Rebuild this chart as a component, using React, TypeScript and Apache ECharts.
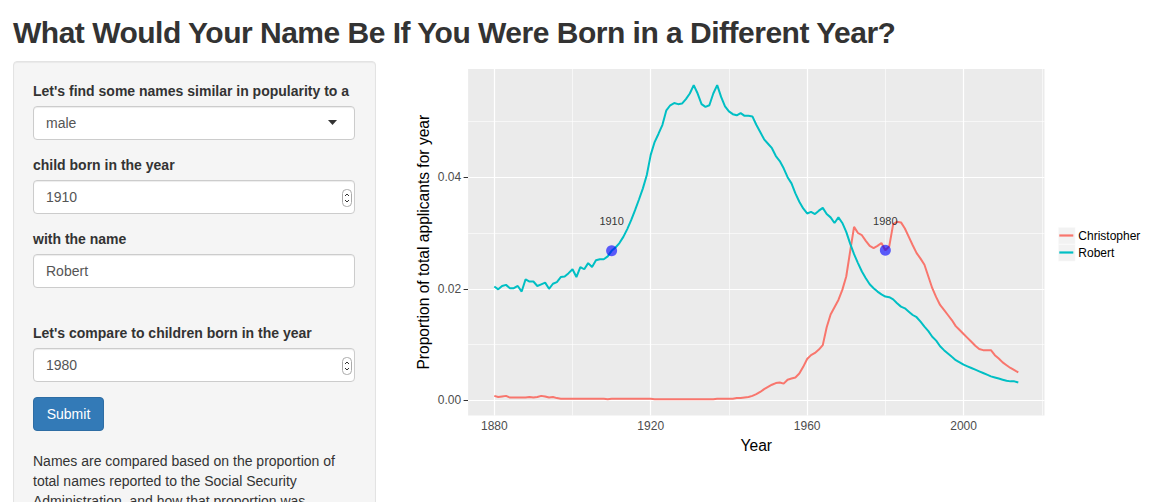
import React, { useEffect, useRef } from "react";
import * as echarts from "echarts";

const START_YEAR = 1880;

const robert = [
  0.0204, 0.0199, 0.0205, 0.0207, 0.0201, 0.0201, 0.0205, 0.0195, 0.0217, 0.0213,
  0.0213, 0.0205, 0.0208, 0.0211, 0.02, 0.0209, 0.0212, 0.0221, 0.0222, 0.0228,
  0.0235, 0.0221, 0.0239, 0.0235, 0.0246, 0.0239, 0.0251, 0.0253, 0.0253, 0.0258,
  0.0268, 0.0274, 0.0282, 0.0293, 0.0307, 0.0323, 0.0341, 0.036, 0.038, 0.0404,
  0.044, 0.0463, 0.0478, 0.0494, 0.052, 0.0529, 0.0533, 0.0531, 0.0532, 0.054,
  0.055, 0.0565, 0.055, 0.0531, 0.0526, 0.0529, 0.055, 0.0565, 0.0544, 0.0527,
  0.0518, 0.0513, 0.0511, 0.0515, 0.051, 0.051, 0.0509, 0.0494, 0.0481, 0.0468,
  0.046, 0.0452, 0.0438, 0.0429, 0.0416, 0.04, 0.0389, 0.0371, 0.0356, 0.0344,
  0.0335, 0.0338, 0.0334, 0.034, 0.0345, 0.0334, 0.0328, 0.0318, 0.0328, 0.0318,
  0.0302, 0.0281, 0.0262, 0.0246, 0.0231, 0.0219, 0.0208, 0.0201, 0.0195, 0.019,
  0.0186, 0.0185, 0.0181, 0.0174, 0.0168, 0.0165, 0.0159, 0.0153, 0.0149, 0.0141,
  0.0132, 0.0124, 0.0114, 0.0107, 0.0097, 0.009, 0.0084, 0.0078, 0.0072, 0.0068,
  0.0064, 0.0061, 0.0058, 0.0055, 0.0052, 0.0049, 0.0046, 0.0043, 0.0041, 0.0039,
  0.0037, 0.0035, 0.0034, 0.0034, 0.0032,
];

const christopher = [
  0.0008, 0.0006, 0.0007, 0.0008, 0.0005, 0.0005, 0.0005, 0.0005, 0.0005, 0.0006,
  0.0005, 0.0006, 0.0008, 0.0007, 0.0005, 0.0006, 0.0004, 0.0003, 0.0003, 0.0003,
  0.0003, 0.0003, 0.0003, 0.0003, 0.0003, 0.0003, 0.0003, 0.0003, 0.0003, 0.0002,
  0.0003, 0.0003, 0.0003, 0.0003, 0.0003, 0.0003, 0.0003, 0.0003, 0.0003, 0.0003,
  0.0003, 0.0002, 0.0002, 0.0002, 0.0002, 0.0002, 0.0002, 0.0002, 0.0002, 0.0002,
  0.0002, 0.0002, 0.0002, 0.0002, 0.0002, 0.0002, 0.0002, 0.0003, 0.0003, 0.0003,
  0.0003, 0.0003, 0.0004, 0.0004, 0.0005, 0.0006, 0.0008, 0.0011, 0.0015, 0.002,
  0.0024, 0.0028, 0.0031, 0.0032, 0.003, 0.0037, 0.0039, 0.0041, 0.0048, 0.006,
  0.0074, 0.0081, 0.0085, 0.0091, 0.0099, 0.0131, 0.0154, 0.0167, 0.018, 0.0198,
  0.0222, 0.0267, 0.0311, 0.03, 0.0296, 0.0286, 0.0277, 0.0273, 0.0277, 0.0282,
  0.0269, 0.0276, 0.0316, 0.032, 0.0319, 0.0308, 0.0293, 0.0278, 0.0264, 0.0254,
  0.0243, 0.0222, 0.0201, 0.0185, 0.0171, 0.0162, 0.0153, 0.0144, 0.0133, 0.0126,
  0.0119, 0.0112, 0.0105, 0.0098, 0.0092, 0.009, 0.009, 0.009, 0.0081, 0.0075,
  0.0068, 0.0063, 0.0058, 0.0054, 0.005,
];

const years = robert.map((_, i) => START_YEAR + i);

const xTicks = [1880, 1920, 1960, 2000];
const xMinor = [1900, 1940, 1980, 2020];
const yTicks = [0, 0.02, 0.04];
const yMinor = [0.01, 0.03, 0.05];

const robertYear = 1910;
const christopherYear = 1980;

const FONT = "'Liberation Sans', Arial, Helvetica, sans-serif";

function Chart() {
  const ref = useRef<HTMLDivElement>(null);
  useEffect(() => {
    if (!ref.current) return;
    const chart = echarts.init(ref.current, undefined, { renderer: "svg" });
    const major = { color: "#ffffff", width: 1.2, type: "solid" as const };
    const minor = { color: "#ffffff", width: 0.6, type: "solid" as const };
    const gridLines = [
      ...xTicks.map((v) => ({ xAxis: v, lineStyle: major })),
      ...xMinor.map((v) => ({ xAxis: v, lineStyle: minor })),
      ...yTicks.map((v) => ({ yAxis: v, lineStyle: major })),
      ...yMinor.map((v) => ({ yAxis: v, lineStyle: minor })),
    ];
    const points = [
      [robertYear, robert[robertYear - START_YEAR]],
      [christopherYear, christopher[christopherYear - START_YEAR]],
    ];
    chart.setOption({
      animation: false,
      textStyle: { fontFamily: FONT },
      grid: {
        left: 83.1,
        top: 14,
        width: 576.4,
        height: 346.4,
        show: true,
        backgroundColor: "#ebebeb",
        borderWidth: 0,
        containLabel: false,
      },
      legend: {
        data: ["Christopher", "Robert"],
        orient: "vertical",
        left: 674.3,
        top: 172,
        padding: 0,
        itemGap: 0,
        itemWidth: 14,
        itemHeight: 2.2,
        icon: "rect",
        selectedMode: false,
        textStyle: { fontSize: 12, lineHeight: 17, color: "#000", fontFamily: FONT },
      },
      graphic: [
        { type: "rect", left: 673, top: 172, z: 0, shape: { width: 17, height: 17 }, style: { fill: "#f2f2f2", stroke: "#ffffff", lineWidth: 0.5 } },
        { type: "rect", left: 673, top: 189, z: 0, shape: { width: 17, height: 17 }, style: { fill: "#f2f2f2", stroke: "#ffffff", lineWidth: 0.5 } },
      ],
      xAxis: {
        type: "value",
        min: 1873.3,
        max: 2020.7,
        name: "Year",
        nameLocation: "middle",
        nameGap: 22,
        nameMoveOverlap: false,
        nameTextStyle: { color: "#000", fontSize: 15.6, fontFamily: FONT },
        axisLine: { show: false },
        axisTick: { show: true, customValues: xTicks, length: 4.5, lineStyle: { color: "#333", width: 1 } },
        axisLabel: {
          customValues: xTicks,
          color: "#4d4d4d",
          fontSize: 12,
          margin: 5,
          fontFamily: FONT,
          formatter: (v: number) => String(v),
        },
        splitLine: { show: false },
      },
      yAxis: {
        type: "value",
        min: -0.0027,
        max: 0.0594,
        name: "Proportion of total applicants for year",
        nameLocation: "middle",
        nameGap: 37,
        nameMoveOverlap: false,
        nameTextStyle: { color: "#000", fontSize: 15.6, fontFamily: FONT },
        axisLine: { show: false },
        axisTick: { show: true, customValues: yTicks, length: 4.5, lineStyle: { color: "#333", width: 1 } },
        axisLabel: {
          customValues: yTicks,
          color: "#4d4d4d",
          fontSize: 12,
          margin: 7,
          fontFamily: FONT,
          formatter: (v: number) => v.toFixed(2),
        },
        splitLine: { show: false },
      },
      series: [
        {
          name: "grid",
          type: "line",
          data: [],
          silent: true,
          z: 1,
          markLine: {
            silent: true,
            z: 1,
            symbol: ["none", "none"],
            label: { show: false },
            emphasis: { disabled: true },
            data: gridLines,
          },
        },
        {
          name: "Christopher",
          type: "line",
          z: 2,
          showSymbol: false,
          symbol: "none",
          color: "#F8766D",
          lineStyle: { color: "#F8766D", width: 2 },
          data: years.map((y, i) => [y, christopher[i]]),
        },
        {
          name: "Robert",
          type: "line",
          z: 2,
          showSymbol: false,
          symbol: "none",
          color: "#00BFC4",
          lineStyle: { color: "#00BFC4", width: 2 },
          data: years.map((y, i) => [y, robert[i]]),
        },
        {
          name: "points",
          type: "scatter",
          z: 3,
          symbolSize: 11,
          itemStyle: { color: "rgba(0,0,255,0.78)" },
          label: {
            show: true,
            position: "top",
            distance: 18,
            color: "#000",
            fontSize: 11,
            lineHeight: 12,
            fontFamily: FONT,
            formatter: (p: any) => String(p.value[0]),
          },
          data: points,
        },
      ],
    });
    return () => chart.dispose();
  }, []);
  return (
    <div
      ref={ref}
      style={{ position: "absolute", left: 385, top: 55, width: 768, height: 410 }}
    />
  );
}

function Spinner() {
  return (
    <svg width="10" height="18" viewBox="0 0 10 18" style={{ position: "absolute", right: 2, top: 8 }}>
      <rect x="0.5" y="0.5" width="9" height="17" rx="4" ry="4" fill="#fff" stroke="#aaa" strokeWidth="1" />
      <polyline points="3,7 5,5 7,7" fill="none" stroke="#333" strokeWidth="1" />
      <polyline points="3,11 5,13 7,11" fill="none" stroke="#333" strokeWidth="1" />
    </svg>
  );
}

const labelStyle: React.CSSProperties = {
  position: "absolute",
  left: 33,
  fontWeight: "bold",
  fontSize: 14,
  lineHeight: "20px",
  color: "#333",
  whiteSpace: "nowrap",
};

const inputStyle: React.CSSProperties = {
  position: "absolute",
  left: 33,
  width: 322,
  height: 34,
  boxSizing: "border-box",
  border: "1px solid #ccc",
  borderRadius: 4,
  background: "#fff",
  boxShadow: "inset 0 1px 1px rgba(0,0,0,.075)",
  padding: "0 12px",
  fontSize: 14,
  lineHeight: "32px",
  color: "#555",
};

export default function App() {
  useEffect(() => {
    document.body.style.margin = "0";
  }, []);
  return (
    <div
      style={{
        position: "absolute",
        left: 0,
        top: 0,
        width: 1153,
        height: 502,
        overflow: "hidden",
        background: "#fff",
        fontFamily: FONT,
        color: "#333",
      }}
    >
      <div
        style={{
          position: "absolute",
          left: 13,
          top: 13,
          fontSize: 30,
          fontWeight: "bold",
          letterSpacing: "-0.5px",
          lineHeight: "40px",
          color: "#333",
          whiteSpace: "nowrap",
        }}
      >
        What Would Your Name Be If You Were Born in a Different Year?
      </div>
      <div
        style={{
          position: "absolute",
          left: 13,
          top: 61,
          width: 363,
          height: 470,
          boxSizing: "border-box",
          background: "#f5f5f5",
          border: "1px solid #e3e3e3",
          borderRadius: 4,
          boxShadow: "inset 0 1px 1px rgba(0,0,0,.05)",
        }}
      />
      <div style={{ ...labelStyle, top: 81 }}>Let's find some names similar in popularity to a</div>
      <div style={{ ...inputStyle, top: 106 }}>
        male
        <svg width="10" height="6" style={{ position: "absolute", left: 294, top: 13 }}>
          <polygon points="0,0 9,0 4.5,5" fill="#333" />
        </svg>
      </div>
      <div style={{ ...labelStyle, top: 155 }}>child born in the year</div>
      <div style={{ ...inputStyle, top: 180 }}>
        1910
        <Spinner />
      </div>
      <div style={{ ...labelStyle, top: 229 }}>with the name</div>
      <div style={{ ...inputStyle, top: 254 }}>Robert</div>
      <div style={{ ...labelStyle, top: 323 }}>Let's compare to children born in the year</div>
      <div style={{ ...inputStyle, top: 348 }}>
        1980
        <Spinner />
      </div>
      <div
        style={{
          position: "absolute",
          left: 33,
          top: 397,
          width: 71,
          height: 34,
          boxSizing: "border-box",
          background: "#337ab7",
          border: "1px solid #2e6da4",
          borderRadius: 4,
          color: "#fff",
          fontSize: 14,
          lineHeight: "32px",
          textAlign: "center",
        }}
      >
        Submit
      </div>
      <div
        style={{
          position: "absolute",
          left: 33,
          top: 451,
          width: 325,
          fontSize: 14,
          lineHeight: "20px",
          color: "#333",
        }}
      >
        Names are compared based on the proportion of total names reported to the Social Security
        Administration, and how that proportion was changing over time.
      </div>
      <Chart />
    </div>
  );
}
